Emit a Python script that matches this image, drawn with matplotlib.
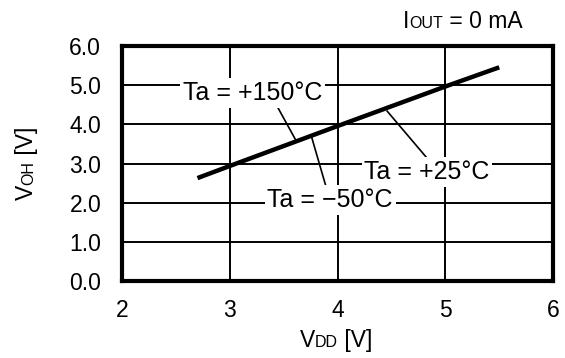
import numpy as np
import matplotlib
matplotlib.use("Agg")
import matplotlib.pyplot as plt

plt.rcParams['font.family'] = ['Liberation Sans', 'DejaVu Sans']

# Dane
vdd = [2.7, 3.0, 4.0, 5.0, 5.5]
voh = [2.63, 2.94, 3.96, 4.97, 5.46]

x_ticks = [2, 3, 4, 5, 6]
y_ticks = [0.0, 1.0, 2.0, 3.0, 4.0, 5.0, 6.0]

# etykiety: tekst, pozycja tekstu, poczatek i koniec linii prowadzacej
labels = ['Ta = +150°C', 'Ta = \u221250°C', 'Ta = +25°C']
label_pos = [(3.21, 4.8), (3.93, 2.07), (4.83, 2.78)]
lead_start = [(3.44, 4.46), (3.90, 2.34), (4.83, 3.14)]
lead_end = [(3.61, 3.61), (3.76, 3.67), (4.46, 4.34)]

BIG = 16.5
SMALL = 11.5

fig = plt.figure(figsize=(5.65, 3.58), dpi=100)
ax = fig.add_axes([0.216, 0.215, 0.763, 0.656])

ax.set_xlim(2, 6)
ax.set_ylim(0, 6)
ax.set_xticks(x_ticks)
ax.set_yticks(y_ticks)
ax.set_xticklabels([str(t) for t in x_ticks])
ax.set_yticklabels(['%.1f' % t for t in y_ticks])
ax.tick_params(length=0, labelsize=BIG)
ax.tick_params(axis='x', pad=13)
ax.tick_params(axis='y', pad=15)
ax.grid(True, color='black', linewidth=1.4)
for s in ax.spines.values():
    s.set_linewidth(3)

ax.plot(vdd, voh, color='black', linewidth=3.2, solid_capstyle='butt', zorder=4)

for txt, pos, a, b in zip(labels, label_pos, lead_start, lead_end):
    ax.plot([a[0], b[0]], [a[1], b[1]], color='black', linewidth=1.2, zorder=3)
    ax.text(pos[0], pos[1], txt, fontsize=18, ha='center', va='center', zorder=5,
            bbox=dict(facecolor='white', edgecolor='none', pad=2))


# napisy z indeksem jak male litery na tej samej linii bazowej
def chain(parts, x, y, rotated=False):
    rot = 90 if rotated else 0
    prev = fig.text(x, y, parts[0][0], fontsize=parts[0][1], ha='left', va='baseline',
                    rotation=rot, rotation_mode='anchor')
    for txt, size in parts[1:]:
        if rotated:
            xy, coords = (x, 1), ('figure fraction', prev)
        else:
            xy, coords = (1, y), (prev, 'figure fraction')
        prev = ax.annotate(txt, xy=xy, xycoords=coords, fontsize=size, ha='left',
                           va='baseline', rotation=rot, rotation_mode='anchor',
                           annotation_clip=False)


chain([('V', BIG), ('DD', SMALL), (' [V]', BIG)], 300 / 565, 1 - 347 / 358)
chain([('V', BIG), ('OH', SMALL), (' [V]', BIG)], 33 / 565, 1 - 200 / 358, rotated=True)
chain([('I', BIG), ('OUT', SMALL), (' = 0 mA', BIG)], 403 / 565, 1 - 28 / 358)

fig.savefig('out.png', dpi=100)
